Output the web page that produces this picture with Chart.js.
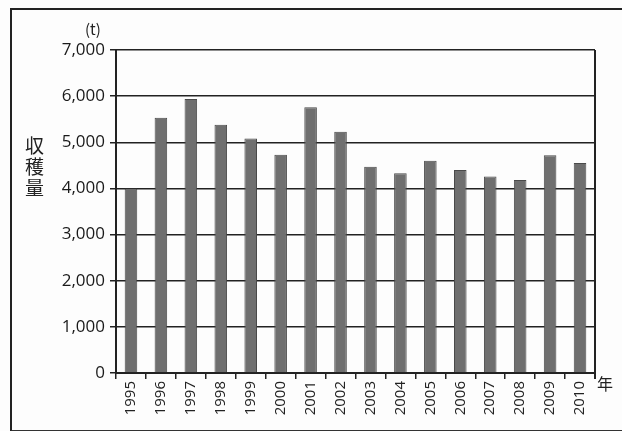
<!DOCTYPE html>
<html><head><meta charset="utf-8">
<script src="https://cdn.jsdelivr.net/npm/chart.js@4"></script>
<style>
html,body{margin:0;padding:0;background:#fff;}
#wrap{position:relative;width:622px;height:431px;overflow:hidden;background:#fdfdfd;}
#frame{position:absolute;left:10px;top:8px;width:640px;height:420px;border-left:2px solid #222;border-top:2px solid #222;border-bottom:2px solid #333;}
canvas{position:absolute;left:0;top:0;}
.t{position:absolute;color:#222;font-family:"Noto Sans CJK JP","Noto Sans",sans-serif;line-height:1;}
</style></head><body>
<div id="wrap">
<div id="frame"></div>
<canvas id="c" width="622" height="431"></canvas>
<div class="t" style="left:85px;top:21px;font-size:15px;">(t)</div>
<div class="t" style="left:25px;top:134px;font-size:19px;line-height:21px;width:22px;">収<br>穫<br>量</div>
<div class="t" style="left:597px;top:375px;font-size:16px;">年</div>
</div>
<script>
const years = ['1995','1996','1997','1998','1999','2000','2001','2002','2003','2004','2005','2006','2007','2008','2009','2010'];
const harvest = [4000,5530,5940,5380,5080,4730,5760,5230,4470,4330,4600,4400,4260,4180,4720,4550];
const yTicks = [0,1000,2000,3000,4000,5000,6000,7000];

new Chart(document.getElementById('c'), {
  type: 'bar',
  data: { labels: years, datasets: [{ data: harvest, backgroundColor: '#6f6f6f', borderColor: '#4a4a4a', borderWidth: 1, barPercentage: 0.42, categoryPercentage: 1 }] },
  options: {
    responsive: false, animation: false,
    layout: { padding: { left: 0, top: 50, right: 27, bottom: 0 } },
    plugins: { legend: { display: false }, tooltip: { enabled: false } },
    scales: {
      x: {
        afterFit: s => { s.height = 58; },
        grid: { offset: true, drawOnChartArea: false, drawTicks: true, tickLength: 6, color: '#222', lineWidth: 1.5 },
        border: { color: '#222', width: 2 },
        ticks: { minRotation: 90, maxRotation: 90, color: '#222', padding: 2, font: { family: '"Open Sans","Noto Sans",sans-serif', size: 15 } }
      },
      y: {
        min: 0, max: 7000,
        afterFit: s => { s.width = 116; },
        afterBuildTicks: s => { s.ticks = yTicks.map(v => ({ value: v })); },
        grid: { color: '#222', lineWidth: 1.5, tickLength: 6 },
        border: { color: '#222', width: 2 },
        ticks: { color: '#1a1a1a', padding: 5, font: { family: '"Open Sans","Noto Sans",sans-serif', size: 17 },
          callback: v => v.toLocaleString('en-US') }
      }
    }
  },
  plugins: [{
    id: 'rightBorder',
    afterDraw(chart) {
      const { ctx, chartArea: a } = chart;
      ctx.save(); ctx.strokeStyle = '#222'; ctx.lineWidth = 2;
      ctx.beginPath(); ctx.moveTo(a.right, a.top); ctx.lineTo(a.right, a.bottom + 6); ctx.stroke();
      ctx.restore();
    }
  }]
});
</script>
</body></html>
